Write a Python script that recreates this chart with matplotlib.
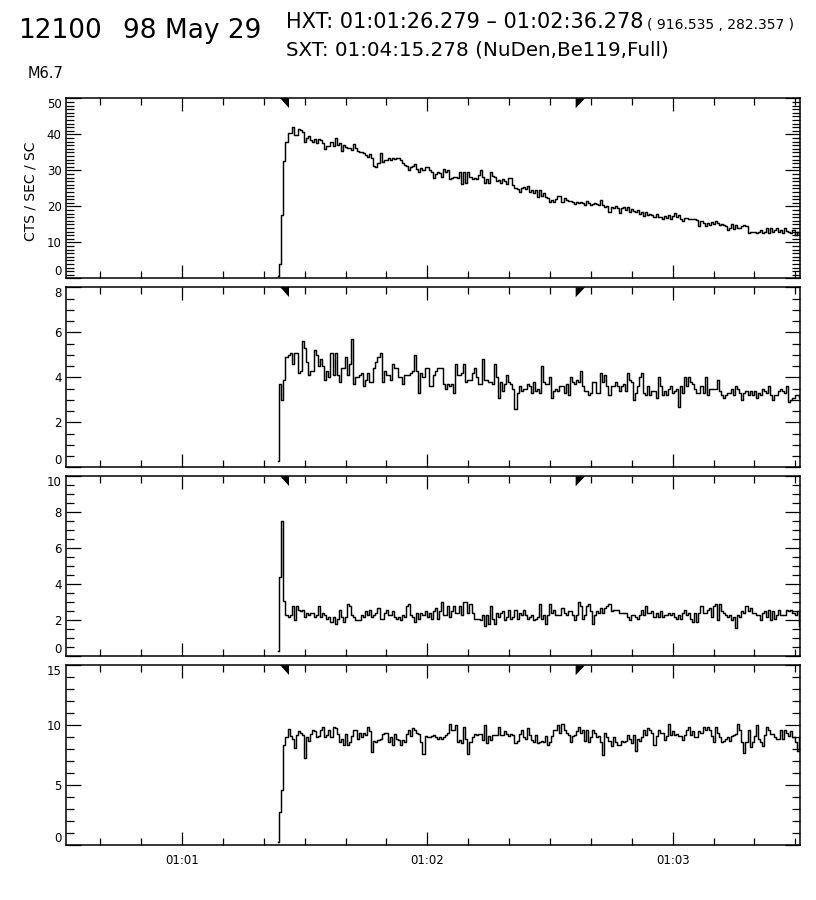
import numpy as np
import matplotlib
matplotlib.use("Agg")
import matplotlib.pyplot as plt
from matplotlib.ticker import MultipleLocator, FixedLocator, FixedFormatter
from matplotlib.transforms import blended_transform_factory

plt.rcParams['font.family'] = ['DejaVu Sans']

# ---------------- data ----------------
# time of first sample, seconds after 01:00:00 ; sample spacing 0.5 s
t_first = 83.56
dt = 0.5
# HXT accumulation interval markers (seconds after 01:00:00)
hxt_start = 86.279
hxt_end = 156.278

ch1_a = [0.6, 4.0, 17.6, 32.6, 37.8, 40.3, 40.3, 41.9, 39.8, 39.8, 41.6, 41.2, 40.7, 37.8, 39.0,
         39.6, 38.4, 38.0, 38.6, 37.5, 38.7, 38.4, 37.5, 35.8, 36.8, 36.8, 37.8, 36.8, 38.9, 37.0,
         37.5, 35.5, 37.0, 36.6, 36.3, 36.1, 35.6, 37.2, 36.1, 35.4, 35.0, 35.0, 34.7, 34.3, 33.8,
         34.5, 33.3, 31.2, 31.0, 32.0, 34.7, 32.4, 32.9, 32.9, 33.3, 32.9, 33.3, 33.1, 33.3, 33.3,
         32.9, 32.1, 31.5, 31.2, 30.1, 31.0, 31.2, 31.8, 30.4, 29.6, 30.6, 30.1, 31.0, 30.8, 30.1,
         29.4, 27.8, 28.9, 29.6, 29.2, 28.1, 30.4, 29.6, 30.1, 27.5, 28.0, 28.1, 28.2, 27.8, 29.4,
         26.2, 29.4, 26.6, 29.4, 28.1, 27.5, 28.0, 27.5, 28.7, 30.1, 28.1, 26.4, 27.5, 26.6, 29.4,
         28.4, 28.1, 27.1, 27.3, 26.6, 27.5, 27.1, 26.2, 27.8, 27.8, 25.9, 25.0, 24.7, 23.9, 25.0,
         25.5, 24.7, 25.7, 24.1, 24.5, 23.6, 24.4, 22.7]
ch1_b = [24.5, 22.9, 23.6, 22.5, 22.2, 21.3, 21.8, 21.3, 21.9, 22.9, 22.9, 21.3, 22.2, 21.8, 21.6,
         21.5, 21.3, 20.6, 21.3, 21.0, 21.3, 20.8, 20.4, 21.5, 20.8, 20.4, 20.6, 21.0, 20.6, 20.4,
         21.8, 20.4, 19.9, 20.1, 18.5, 19.9, 19.4, 20.1, 19.6, 18.1, 19.4, 19.7, 19.0, 19.9, 18.5,
         19.2, 18.7, 18.5, 19.0, 17.9, 18.3, 17.3, 18.3, 17.6, 17.9, 17.6, 17.1, 17.9, 16.9, 17.1,
         16.4, 17.3, 16.7, 17.6, 16.4, 17.3, 18.1, 16.9, 17.6, 16.4, 15.9, 16.7, 16.7, 16.6, 16.6,
         16.6, 16.6, 16.2, 14.5, 16.0, 15.4, 14.5, 15.4, 14.9, 15.6, 15.1, 16.0, 15.4, 14.9, 15.1,
         14.9, 14.5, 13.4, 14.1, 15.0, 13.8, 14.9, 14.0, 14.1, 14.5, 14.8, 14.5, 12.7, 13.0, 13.0,
         13.0, 12.7, 13.0, 13.4, 12.7, 13.0, 13.9, 12.5, 14.1, 13.0, 13.4, 14.1, 13.0, 13.5, 12.7,
         14.1, 13.2, 13.0, 12.5, 13.4, 11.9, 13.0, 12.2, 12.6]

ch2_a = [0.3, 3.7, 3.0, 3.9, 4.9, 5.0, 5.1, 4.6, 5.1, 5.1, 4.2, 4.3, 5.6, 5.3, 4.7,
         4.1, 4.3, 4.3, 5.2, 5.0, 4.5, 4.8, 4.5, 3.9, 4.3, 4.0, 5.1, 4.1, 5.1, 4.1,
         3.8, 4.4, 4.4, 4.9, 4.1, 4.6, 5.7, 3.7, 4.0, 4.0, 4.1, 4.2, 3.6, 3.9, 4.2,
         3.8, 3.8, 4.4, 4.7, 4.9, 5.1, 3.8, 4.3, 4.1, 4.1, 3.9, 4.6, 4.4, 4.4, 4.0,
         4.0, 3.7, 4.1, 4.1, 4.1, 4.2, 4.3, 5.0, 4.3, 3.3, 4.2, 4.0, 4.4, 4.4, 3.6,
         3.6, 4.1, 4.3, 4.4, 4.4, 4.4, 3.7, 3.5, 3.7, 3.6, 3.7, 3.3, 4.6, 4.1, 4.1,
         4.2, 4.6, 3.8, 3.9, 3.9, 4.2, 4.4, 4.0, 3.7, 3.7, 4.8, 3.9, 3.9, 3.8, 3.8,
         3.7, 4.6, 4.0, 3.1, 3.8, 3.4, 3.7, 4.1, 3.8, 3.7, 3.5, 2.6, 3.3, 3.6, 3.4,
         3.5, 3.5, 3.7, 3.6, 3.3, 3.8, 3.4, 3.5, 3.3]
ch2_b = [4.5, 3.8, 3.7, 3.7, 4.0, 3.1, 3.4, 3.5, 3.4, 3.6, 3.6, 3.3, 3.7, 3.2, 4.0,
         3.8, 3.7, 3.9, 3.8, 4.3, 3.6, 3.4, 3.4, 3.2, 3.3, 3.8, 3.8, 3.3, 3.3, 4.2,
         3.8, 4.1, 3.6, 3.2, 3.6, 3.6, 3.8, 3.6, 3.4, 3.6, 3.7, 3.4, 4.2, 3.9, 3.8,
         3.0, 3.3, 3.6, 4.0, 4.2, 3.3, 3.2, 3.6, 3.2, 3.4, 3.4, 3.1, 4.0, 3.6, 3.2,
         3.4, 3.2, 3.5, 3.6, 3.3, 3.4, 3.5, 2.7, 3.6, 3.3, 4.0, 3.6, 4.0, 3.8, 3.7,
         3.5, 3.3, 3.3, 3.6, 3.3, 4.0, 3.2, 3.5, 3.5, 3.5, 3.5, 3.9, 3.4, 3.2, 3.1,
         3.2, 3.3, 3.3, 3.5, 3.2, 3.6, 3.5, 3.3, 3.0, 3.3, 3.4, 3.2, 3.4, 3.2, 3.4,
         3.1, 3.3, 3.2, 3.5, 3.4, 3.3, 3.6, 3.2, 3.0, 3.2, 3.2, 3.4, 3.5, 3.4, 3.3,
         3.6, 2.9, 3.0, 3.1, 3.2, 3.2, 3.1, 3.1, 3.4, 3.2]

ch3_a = [0.3, 4.4, 7.5, 3.1, 2.3, 2.2, 2.3, 2.8, 2.0, 2.8, 2.6, 2.5, 2.6, 2.2, 2.4,
         2.3, 2.4, 2.4, 2.2, 2.3, 2.8, 2.2, 2.4, 2.3, 2.1, 2.2, 1.9, 2.2, 1.8, 2.1,
         2.6, 2.2, 1.9, 2.2, 2.9, 2.8, 2.3, 2.2, 2.0, 2.0, 2.0, 2.3, 2.2, 2.5, 2.3,
         2.6, 2.2, 2.3, 2.4, 2.7, 2.1, 2.1, 2.4, 2.6, 2.3, 2.3, 2.5, 2.2, 2.1, 2.2,
         2.0, 2.3, 2.2, 2.8, 2.9, 2.3, 2.2, 1.9, 2.4, 2.1, 2.4, 2.3, 2.5, 2.2, 2.4,
         2.1, 2.5, 2.7, 2.1, 2.5, 3.0, 2.3, 2.3, 2.8, 2.2, 2.5, 2.8, 2.4, 2.4, 2.8,
         2.3, 3.0, 3.0, 2.4, 2.9, 2.4, 2.1, 2.1, 2.1, 2.0, 2.3, 1.7, 2.3, 1.8, 2.8,
         2.1, 1.8, 2.4, 2.2, 2.4, 2.5, 2.0, 2.2, 2.6, 2.1, 2.2, 2.6, 2.1, 2.4, 2.3,
         2.6, 2.3, 2.1, 2.2, 2.3, 2.0, 2.1, 2.2, 2.9]
ch3_b = [2.1, 2.3, 1.8, 2.3, 2.9, 2.4, 2.6, 2.3, 2.3, 2.3, 2.7, 2.4, 2.3, 2.5, 2.5,
         2.3, 2.0, 2.3, 3.0, 2.8, 2.1, 2.3, 2.8, 2.9, 2.5, 1.8, 2.3, 2.5, 2.4, 2.7,
         2.4, 2.7, 2.8, 2.9, 2.5, 2.6, 2.6, 2.6, 2.4, 2.4, 2.4, 2.4, 2.2, 2.0, 2.3,
         2.3, 2.2, 2.1, 2.3, 2.6, 2.3, 2.8, 2.4, 2.4, 2.5, 2.2, 2.4, 2.2, 2.5, 2.2,
         2.3, 2.3, 2.4, 2.3, 2.4, 2.2, 2.1, 2.3, 2.1, 2.4, 2.6, 2.3, 2.4, 2.1, 1.9,
         2.4, 1.9, 2.4, 2.8, 2.4, 2.4, 2.6, 2.7, 2.2, 2.8, 2.9, 2.0, 2.9, 2.5, 2.4,
         2.3, 2.2, 2.3, 2.0, 2.2, 1.6, 2.3, 2.2, 2.5, 2.4, 2.8, 2.5, 2.7, 2.4, 2.4,
         2.3, 2.3, 2.0, 2.4, 2.5, 2.2, 2.6, 2.0, 2.5, 2.1, 2.3, 2.6, 2.3, 2.3, 2.3,
         2.6, 2.5, 2.6, 2.4, 2.3, 2.5, 1.7, 2.4, 2.3, 2.4]

ch4_a = [0.3, 2.8, 4.6, 8.4, 9.0, 9.7, 9.1, 8.9, 8.1, 9.2, 9.5, 9.4, 9.2, 7.3, 9.0,
         8.7, 9.3, 9.6, 9.5, 9.0, 9.1, 9.6, 9.9, 9.0, 9.2, 9.6, 9.0, 9.9, 9.8, 9.3,
         8.6, 8.9, 8.4, 9.3, 8.4, 8.6, 9.1, 9.6, 9.6, 8.9, 9.4, 9.0, 9.4, 9.2, 9.9,
         9.5, 7.8, 8.7, 8.6, 8.8, 8.9, 9.3, 9.4, 9.4, 8.6, 9.0, 8.4, 9.3, 8.9, 8.8,
         8.4, 8.8, 8.6, 9.3, 9.6, 9.1, 9.8, 9.6, 9.4, 9.3, 8.6, 7.6, 9.1, 9.0, 9.0,
         9.1, 9.2, 9.0, 8.9, 9.0, 8.9, 9.0, 9.2, 9.4, 10.1, 9.6, 9.6, 10.0, 8.6, 8.8,
         8.5, 9.9, 8.9, 7.6, 8.6, 9.0, 9.3, 9.2, 9.3, 9.3, 8.8, 10.0, 8.5, 9.1, 8.8,
         9.2, 9.2, 9.2, 9.9, 9.2, 9.2, 9.5, 9.3, 9.1, 9.3, 9.2, 8.5, 8.7, 9.3, 9.6,
         9.0, 8.9, 9.8, 9.2, 8.8, 8.6, 9.2, 8.5, 8.6]
ch4_b = [8.7, 8.6, 9.1, 8.4, 8.6, 9.1, 9.6, 9.6, 10.0, 9.4, 10.1, 9.6, 9.4, 9.2, 8.6,
         9.1, 9.2, 9.5, 9.9, 9.4, 9.6, 8.7, 9.6, 8.6, 9.0, 9.6, 9.4, 9.0, 9.1, 8.6,
         7.5, 9.4, 9.0, 8.7, 8.3, 9.0, 8.6, 8.4, 8.4, 8.7, 8.6, 8.7, 9.2, 8.9, 8.5,
         9.2, 7.9, 8.9, 8.7, 9.0, 9.6, 9.2, 9.8, 9.6, 9.4, 8.4, 9.1, 9.6, 9.4, 9.4,
         8.8, 9.1, 10.1, 9.2, 9.5, 9.2, 9.3, 9.1, 9.1, 8.8, 9.2, 9.6, 9.9, 9.2, 9.5,
         9.0, 9.0, 9.5, 9.4, 9.9, 9.6, 9.9, 9.6, 9.1, 8.6, 9.9, 9.4, 9.0, 8.6, 8.7,
         8.9, 9.0, 8.7, 9.1, 9.2, 9.3, 10.1, 9.6, 8.6, 7.7, 8.6, 9.6, 8.2, 8.6, 9.1,
         10.0, 8.9, 8.6, 8.3, 9.2, 9.9, 9.6, 9.3, 9.3, 9.0, 8.9, 8.9, 9.6, 8.9, 9.6,
         9.4, 9.1, 9.5, 9.0, 8.6, 7.9, 9.0, 9.4, 9.8, 9.6]

channels = [ch1_a + ch1_b, ch2_a + ch2_b, ch3_a + ch3_b, ch4_a + ch4_b]
y_max = [50, 8, 10, 15]
y_major = [10, 2, 2, 5]
y_minor = [1, 0.5, 0.5, 1]

x_range = (31.55, 211.15)
x_major_ticks = [60, 120, 180]
x_tick_labels = ["01:01", "01:02", "01:03"]
x_minor_step = 10

title_left = "12100"
title_date = "98 May 29"
hxt_text = "HXT: 01:01:26.279 \u2013 01:02:36.278"
pos_text = "( 916.535 , 282.357 )"
sxt_text = "SXT: 01:04:15.278 (NuDen,Be119,Full)"
goes_class = "M6.7"
y_label = "CTS / SEC / SC"

# ---------------- figure ----------------
W, H = 816, 900
fig = plt.figure(figsize=(W / 100, H / 100), dpi=100)
fig.patch.set_facecolor('white')

left_px, right_px = 65.7, 800.0
tops_px = [98.3, 287.3, 476.3, 665.3]
panel_h = 180.0

def fx(px):
    return px / W

def fy(py):
    return 1 - py / H

axes = []
for i, top in enumerate(tops_px):
    ax = fig.add_axes([fx(left_px), fy(top + panel_h), (right_px - left_px) / W, panel_h / H])
    vals = np.array(channels[i])
    t = t_first + dt * np.arange(len(vals))
    ax.step(t, vals, where='mid', color='black', lw=1.05, clip_on=True)
    ax.set_xlim(*x_range)
    ax.set_ylim(0, y_max[i])
    ax.set_yticks(np.arange(0, y_max[i] + 1e-9, y_major[i]))
    ax.yaxis.set_minor_locator(MultipleLocator(y_minor[i]))
    ax.xaxis.set_major_locator(FixedLocator(x_major_ticks))
    ax.xaxis.set_minor_locator(MultipleLocator(x_minor_step))
    ax.tick_params(which='both', direction='in', top=True, right=True, width=0.9, color='black')
    ax.tick_params(axis='x', which='major', length=9.5)
    ax.tick_params(axis='x', which='minor', length=5)
    ax.tick_params(axis='y', which='major', length=11, labelsize=8.5, pad=3)
    ax.tick_params(axis='y', which='minor', length=5.5)
    for s in ax.spines.values():
        s.set_linewidth(1.1)
    labels = ax.get_yticklabels()
    labels[0].set_verticalalignment('bottom')
    labels[-1].set_verticalalignment('top')
    if i < 3:
        ax.xaxis.set_major_formatter(FixedFormatter([''] * len(x_major_ticks)))
    else:
        ax.xaxis.set_major_formatter(FixedFormatter(x_tick_labels))
        ax.tick_params(axis='x', which='major', labelsize=8.5, pad=6)
    # HXT interval flags
    tr = blended_transform_factory(ax.transData, ax.transAxes)
    fw, fh = 2.3, 0.055
    ax.fill([hxt_start - fw, hxt_start, hxt_start], [1, 1, 1 - fh], color='black',
            transform=tr, clip_on=False, lw=0)
    ax.fill([hxt_end, hxt_end + fw, hxt_end], [1, 1, 1 - fh], color='black',
            transform=tr, clip_on=False, lw=0)
    axes.append(ax)

fig.text(fx(31), fy(191), y_label, fontsize=10, rotation=90, va='center', ha='center')

# header texts
fig.text(fx(18), fy(31), title_left, fontsize=19, va='center', ha='left')
fig.text(fx(123), fy(31), title_date, fontsize=19, va='center', ha='left')
fig.text(fx(286), fy(22), hxt_text, fontsize=15, va='center', ha='left')
fig.text(fx(647), fy(25), pos_text, fontsize=10, va='center', ha='left')
fig.text(fx(286), fy(50), sxt_text, fontsize=14.3, va='center', ha='left')
fig.text(fx(28), fy(74), goes_class, fontsize=10.5, va='center', ha='left')

fig.savefig("out.png", dpi=100, facecolor='white')
